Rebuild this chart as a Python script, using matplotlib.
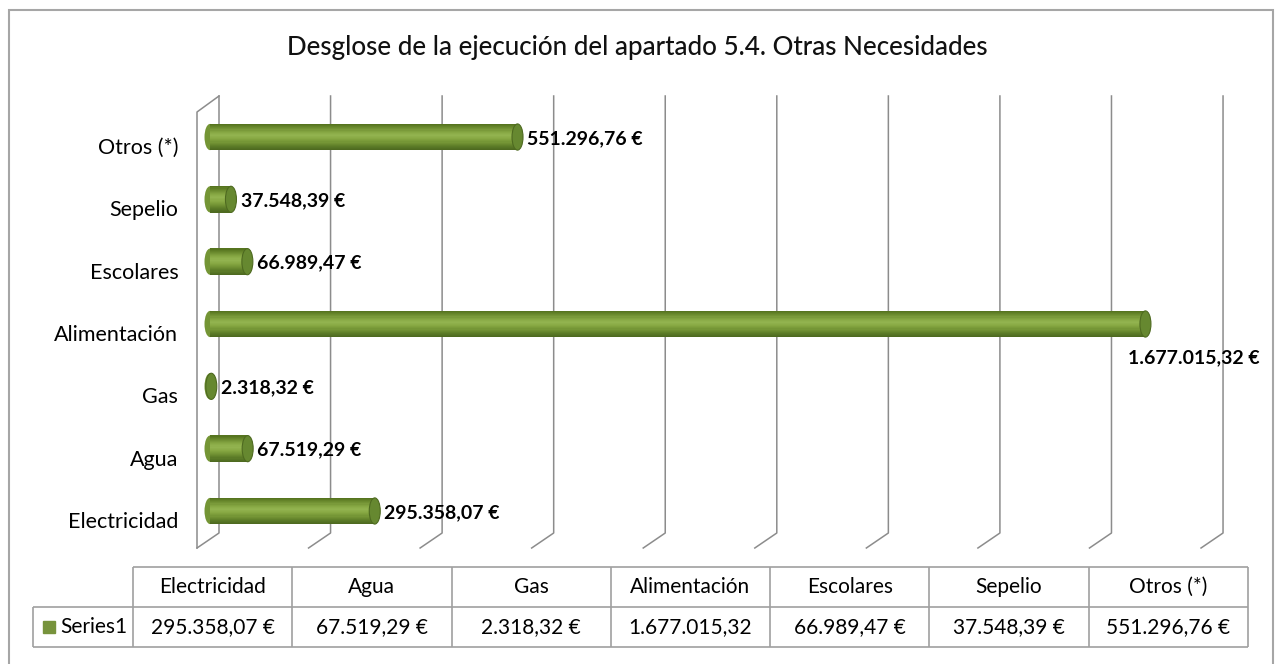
import numpy as np
import matplotlib.pyplot as plt
from matplotlib.colors import LinearSegmentedColormap
from matplotlib.patches import Ellipse, Rectangle
from matplotlib.transforms import ScaledTranslation

# data
categories = ['Electricidad', 'Agua', 'Gas', 'Alimentación', 'Escolares', 'Sepelio', 'Otros (*)']
values = [295358.07, 67519.29, 2318.32, 1677015.32, 66989.47, 37548.39, 551296.76]
series_name = 'Series1'
title = 'Desglose de la ejecución del apartado 5.4. Otras Necesidades'
grid_step = 200000
grid_max = 1800000


def eur(v):
    s = f'{v:,.2f}'
    return s.replace(',', 'X').replace('.', ',').replace('X', '.')


W, H, DPI = 1275, 664, 100
plt.rcParams['font.family'] = ['Lato', 'DejaVu Sans']
fig = plt.figure(figsize=(W / DPI, H / DPI), dpi=DPI)


def px(x0, y0, x1, y1):
    # pixel box -> figure fraction rect
    return [x0 / W, 1 - y1 / H, (x1 - x0) / W, (y1 - y0) / H]


# outer frame
fig.patches.append(Rectangle((9 / W, -0.01), (1273 - 9) / W, 1 - 10 / H + 0.01,
                             transform=fig.transFigure, fill=False, ec='#a6a6a6', lw=1.5))
fig.text(0.5, 1 - 47 / H, title, ha='center', va='center', fontsize=18.7,
         fontweight='medium', color='#111111')

# chart area
ax = fig.add_axes(px(197, 96, 1223, 548))
ppu = 111.56 / grid_step          # pixels per euro
x0 = 210                          # pixel of value 0 (middle depth)
back, front = 9 / ppu, -13 / ppu  # depth offsets in data units
ax.set_xlim((197 - x0) / ppu, (1223 - x0) / ppu)
ax.set_ylim(-0.594, 6.658)
for s in ax.spines.values():
    s.set_visible(False)
ax.set_xticks([])

grid_kw = dict(color='#8c8c8c', lw=1.1, clip_on=False, transform=ax.get_xaxis_transform())
yb_back, yt_front = 15 / 452, 436 / 452
for v in np.arange(0, grid_max + 1, grid_step):
    ax.plot([v + back, v + back, v + front], [1, yb_back, 0], **grid_kw)
ax.plot([front, front, back], [0, yt_front, 1], **grid_kw)

# cylinders
ypos = np.arange(len(categories))
h = 0.42
cmap = LinearSegmentedColormap.from_list('cyl', ['#4e6a20', '#5c7c28', '#739434', '#86a742',
                                                  '#93b450', '#86a743', '#6d8d30', '#56741f'])
N = 24
for i in range(N):
    ax.barh(ypos - h / 2 + (i + 0.5) * h / N, values, height=h / N * 1.15,
            color=cmap(i / (N - 1)), lw=0, zorder=3)
cap_w = 11 / ppu
for y, v in zip(ypos, values):
    ax.add_patch(Ellipse((0, y), cap_w, h, fc='#749535', ec='none', zorder=2))
    ax.add_patch(Ellipse((v, y), cap_w, h, fc='#668830', ec='#4e6a20', lw=0.8, zorder=4))

for y, v in zip(ypos, values):
    if v == max(values):
        ax.annotate(f'{eur(v)} €', (v, y), xytext=(35, -24), textcoords='offset points',
                    ha='center', va='center', fontsize=14, fontweight='bold')
    else:
        ax.annotate(f'{eur(v)} €', (v, y), xytext=(7, -1), textcoords='offset points',
                    ha='left', va='center', fontsize=14, fontweight='bold')

ax.set_yticks(ypos, categories, fontsize=15.5)
ax.tick_params(axis='y', length=0, pad=13.5)
for lab in ax.get_yticklabels():
    lab.set_transform(lab.get_transform() + ScaledTranslation(0, -9 / DPI, fig.dpi_scale_trans))

# data table
tax = fig.add_axes(px(33, 567, 1248, 647))
n = len(categories)
lab_w = 100 / ((1248 - 133) / n)
tax.set_xlim(-lab_w, n)
tax.set_ylim(0, 2)
tax.axis('off')
line_kw = dict(colors='#a0a0a0', lw=1.2, clip_on=False)
tax.hlines([2], 0, n, **line_kw)
tax.hlines([1, 0], -lab_w, n, **line_kw)
tax.vlines(np.arange(n + 1), 0, 2, **line_kw)
tax.vlines([-lab_w], 0, 1, **line_kw)

cells = [f'{eur(v)} €' for v in values]
cells[3] = eur(values[3])  # the original cell is too narrow for the € sign
for i, (c, t) in enumerate(zip(categories, cells)):
    tax.text(i + 0.5, 1.5, c, ha='center', va='center', fontsize=15)
    tax.text(i + 0.5, 0.5, t, ha='center', va='center', fontsize=15)
tax.plot([-lab_w + 0.1], [0.5], 's', color='#77933c', ms=9)
tax.text(-lab_w + 0.17, 0.5, series_name, ha='left', va='center', fontsize=15)

fig.savefig('out.png', dpi=DPI)
